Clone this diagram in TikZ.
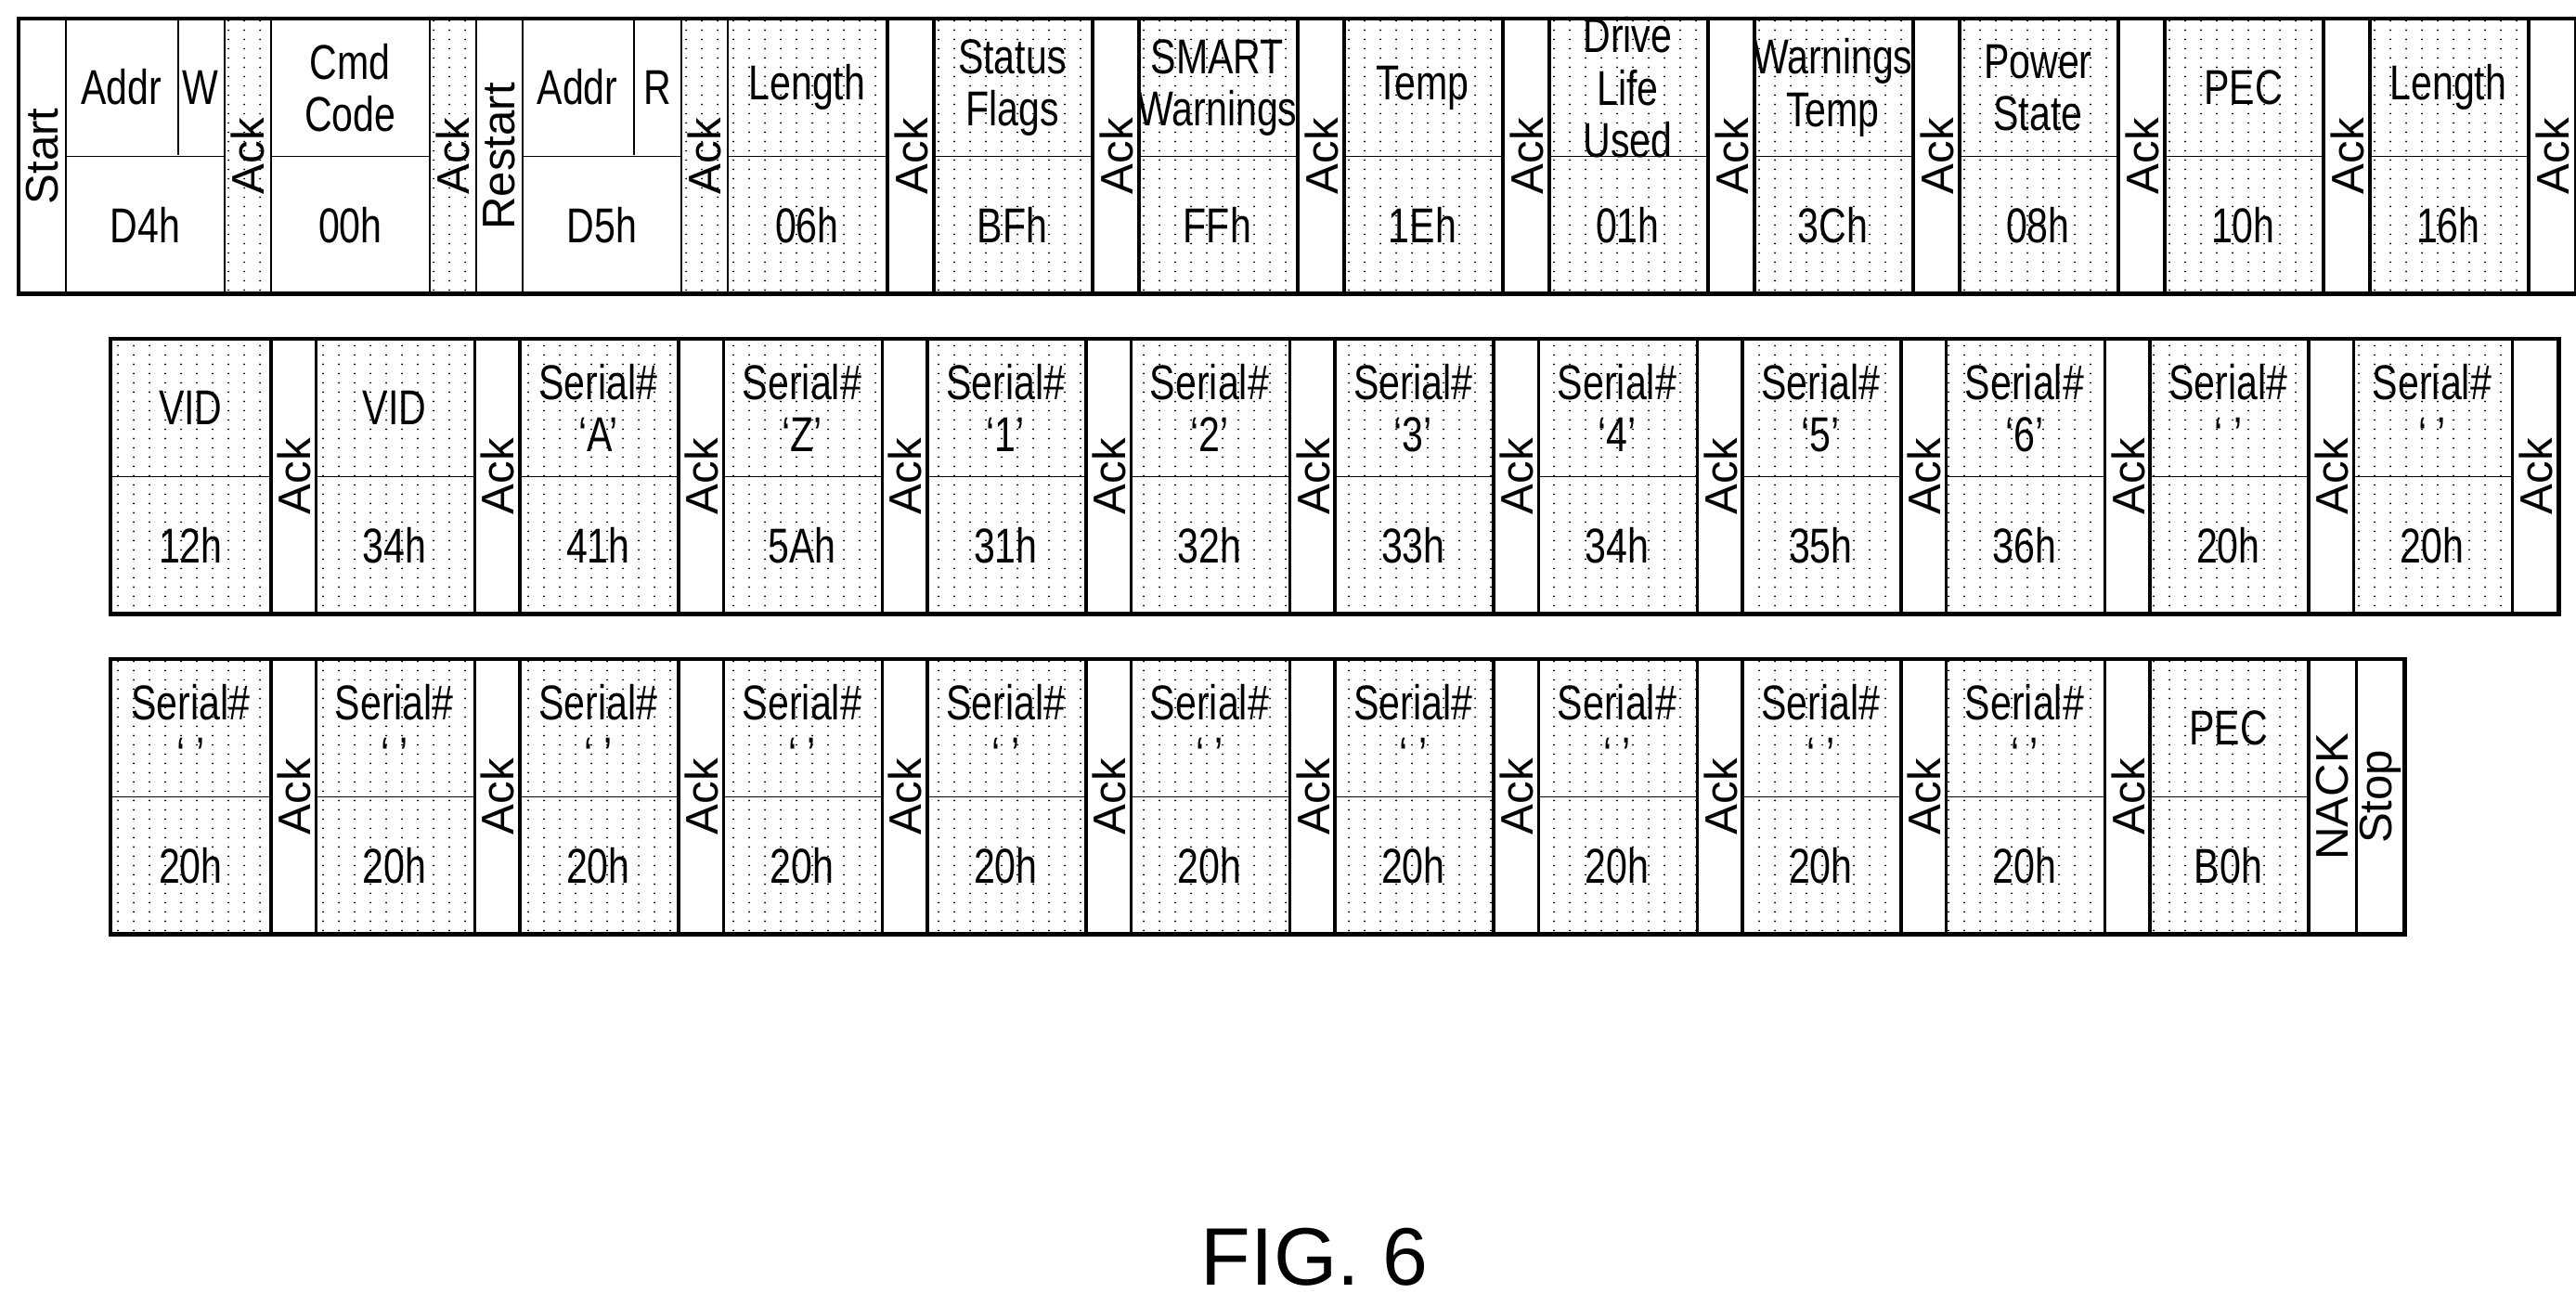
\documentclass[tikz,border=0pt]{standalone}
\usepackage{fontspec}
\setmainfont{Liberation Sans}
\newfontfamily\narrowfont[FakeStretch=0.78]{Liberation Sans}
\usetikzlibrary{patterns, calc}

\pgfdeclarepatternformonly{sparsedots}{\pgfpointorigin}{\pgfpoint{0.17cm}{0.1cm}}{\pgfpoint{0.17cm}{0.1cm}}{%
  \pgfpathcircle{\pgfpoint{0.085cm}{0.05cm}}{0.011cm}\pgfusepath{fill}}

\tikzset{
  cell/.style={draw, line width=0.5pt, minimum height=2.95cm, inner sep=0pt, anchor=north west},
  blank/.style={cell, minimum width=1.71cm},
  data/.style={blank, pattern=sparsedots},
  ack/.style={cell, minimum width=0.50cm},
  ackdot/.style={ack, pattern=sparsedots},
  txt/.style={font=\narrowfont\fontsize{15}{16}\selectfont, align=center, inner sep=1pt},
  rot/.style={rotate=90, font=\fontsize{14}{15}\selectfont, inner sep=0pt},
  frame/.style={line width=1.3pt},
}

\begin{document}
\begin{tikzpicture}
\useasboundingbox (0,0) rectangle (27.75,-14.07);

% Row 1
\node[ack] (start) at (0.20,-0.20) {};
\node[rot] at (start) {Start};
\node[blank] (aw) at (0.70,-0.20) {};
\draw (aw.west) -- (aw.east);
\draw (1.92,-0.20) -- (1.92,-1.675);
\node[txt] at (1.31,-0.94) {Addr};
\node[txt] at (2.16,-0.94) {W};
\node[txt] at ($(aw.center)+(0,-0.74)$) {D4h};
\node[ackdot] (a1) at (2.41,-0.20) {};
\node[rot] at (a1) {Ack};
\node[blank] (cmd) at (2.91,-0.20) {};
\draw (cmd.west) -- (cmd.east);
\node[txt] at ($(cmd.center)+(0,0.74)$) {Cmd\\Code};
\node[txt] at ($(cmd.center)+(0,-0.74)$) {00h};
\node[ackdot] (a2) at (4.62,-0.20) {};
\node[rot] at (a2) {Ack};
\node[ack] (restart) at (5.12,-0.20) {};
\node[rot] at (restart) {Restart};
\node[blank] (ar) at (5.62,-0.20) {};
\draw (ar.west) -- (ar.east);
\draw (6.83,-0.20) -- (6.83,-1.675);
\node[txt] at (6.22,-0.94) {Addr};
\node[txt] at (7.08,-0.94) {R};
\node[txt] at ($(ar.center)+(0,-0.74)$) {D5h};
\node[ackdot] (a3) at (7.33,-0.20) {};
\node[rot] at (a3) {Ack};
\foreach \t/\b [count=\i] in {Length/06h, Status\\Flags/BFh, SMART\\Warnings/FFh, Temp/1Eh,
    Drive\\Life\\Used/01h, Warnings\\Temp/3Ch, Power\\State/08h, PEC/10h, Length/16h} {
  \node[data] (d1\i) at ({7.83+(\i-1)*2.21},-0.20) {};
  \draw (d1\i.west) -- (d1\i.east);
  \node[txt] at ($(d1\i.center)+(0,0.74)$) {\t};
  \node[txt] at ($(d1\i.center)+(0,-0.74)$) {\b};
  \node[ack] (k1\i) at (d1\i.north east) {};
  \node[rot] at (k1\i) {Ack};
}
\draw[frame] (start.north west) rectangle (k19.south east);

% Row 2
\foreach \t/\b [count=\i] in {VID/12h, VID/34h, Serial\#\\‘A’/41h, Serial\#\\‘Z’/5Ah,
    Serial\#\\‘1’/31h, Serial\#\\‘2’/32h, Serial\#\\‘3’/33h, Serial\#\\‘4’/34h,
    Serial\#\\‘5’/35h, Serial\#\\‘6’/36h, Serial\#\\‘\ ’/20h, Serial\#\\‘\ ’/20h} {
  \node[data] (d2\i) at ({1.19+(\i-1)*2.195},-3.65) {};
  \draw (d2\i.west) -- (d2\i.east);
  \node[txt] at ($(d2\i.center)+(0,0.74)$) {\t};
  \node[txt] at ($(d2\i.center)+(0,-0.74)$) {\b};
  \node[ack, minimum width=0.485cm] (k2\i) at (d2\i.north east) {};
  \node[rot] at (k2\i) {Ack};
}
\draw[frame] (d21.north west) rectangle (k212.south east);

% Row 3
\foreach \i in {1,...,10} {
  \node[data] (d3\i) at ({1.19+(\i-1)*2.195},-7.10) {};
  \draw (d3\i.west) -- (d3\i.east);
  \node[txt] at ($(d3\i.center)+(0,0.74)$) {Serial\#\\‘\ ’};
  \node[txt] at ($(d3\i.center)+(0,-0.74)$) {20h};
  \node[ack, minimum width=0.485cm] (k3\i) at (d3\i.north east) {};
  \node[rot] at (k3\i) {Ack};
}
\node[data] (pec) at (23.14,-7.10) {};
\draw (pec.west) -- (pec.east);
\node[txt] at ($(pec.center)+(0,0.74)$) {PEC};
\node[txt] at ($(pec.center)+(0,-0.74)$) {B0h};
\node[ack] (nack) at (pec.north east) {};
\node[rot] at (nack) {NACK};
\node[ack] (stop) at (nack.north east) {};
\node[rot] at (stop) {Stop};
\draw[frame] (d31.north west) rectangle (stop.south east);

\node[font=\fontsize{25}{28}\selectfont] (fig) at (14.16,-13.54) {FIG. 6};
\end{tikzpicture}
\end{document}
